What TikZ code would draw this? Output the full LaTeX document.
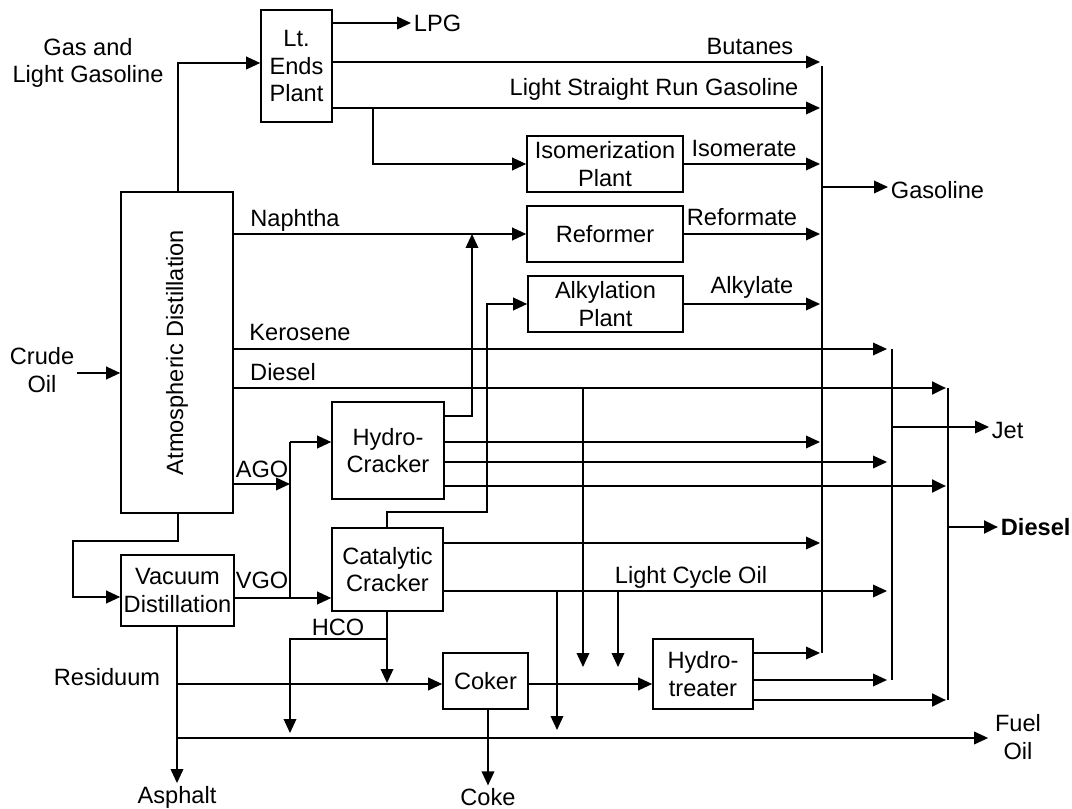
\documentclass[tikz,border=0pt]{standalone}
\usepackage{fontspec}
\setmainfont{Liberation Sans}
\usetikzlibrary{arrows.meta}
\begin{document}
\begin{tikzpicture}[x=0.75pt,y=-0.75pt,
  font=\fontsize{17.7}{20.5}\selectfont,
  box/.style={draw,line width=1.2pt,inner sep=0pt,align=center},
  lbl/.style={inner sep=2pt,align=center},
  ln/.style={line width=1.1pt},
  thk/.style={line width=2.1pt},
  arr/.style={-{Triangle[length=10.5pt,width=9.5pt]}}]
\useasboundingbox (0,0) rectangle (1072,809);

% ---------- boxes ----------
\node[box,minimum width=84pt,minimum height=240.75pt] (atm) at (177,352.5) {\rotatebox{90}{Atmospheric Distillation}};
\node[box,minimum width=53.25pt,minimum height=84pt] (lt) at (296.5,66) {Lt.\\Ends\\Plant};
\node[box,minimum width=117pt,minimum height=42pt] (iso) at (605,164) {Isomerization\\Plant};
\node[box,minimum width=117pt,minimum height=42pt] (ref) at (605,234) {Reformer};
\node[box,minimum width=116.25pt,minimum height=42pt] (alk) at (605.5,304) {Alkylation\\Plant};
\node[box,minimum width=84pt,minimum height=72.75pt] (hc) at (388,450.5) {Hydro-\\Cracker};
\node[box,minimum width=84.75pt,minimum height=53.25pt] (vac) at (177.5,590.5) {Vacuum\\Distillation};
\node[box,minimum width=83.25pt,minimum height=62.25pt] (cc) at (387.5,569.5) {Catalytic\\Cracker};
\node[box,minimum width=63.75pt,minimum height=42pt] (coker) at (485.5,681) {Coker};
\node[box,minimum width=75pt,minimum height=52.5pt] (ht) at (703,674) {Hydro-\\treater};

% ---------- labels ----------
\node[lbl] (crude) at (42,370) {Crude\\Oil};
\node[lbl] (gasl) at (88,63) {Gas and\\Light Gasoline};
\node[lbl,anchor=west] (lpg) at (411,23) {LPG};
\node[lbl] (but) at (750,47) {Butanes};
\node[lbl] (lsrg) at (654,89) {Light Straight Run Gasoline};
\node[lbl] (isol) at (744,148) {Isomerate};
\node[lbl] (refl) at (742,217) {Reformate};
\node[lbl] (alkl) at (752,287) {Alkylate};
\node[lbl] (nap) at (295,220) {Naphtha};
\node[lbl] (ker) at (300,332) {Kerosene};
\node[lbl] (dsl) at (283,372) {Diesel};
\node[lbl] (ago) at (262,469) {AGO};
\node[lbl] (vgo) at (262,580) {VGO};
\node[lbl] (hco) at (338,627) {HCO};
\node[lbl] (lco) at (691,577) {Light Cycle Oil};
\node[lbl] (res) at (107,677) {Residuum};
\node[lbl] (asph) at (177,797) {Asphalt};
\node[lbl] (coke) at (488,797) {Coke};
\node[lbl,anchor=west] (gaso) at (888,190) {Gasoline};
\node[lbl,anchor=west] (jet) at (989,430) {Jet};
\node[lbl,anchor=west,font=\fontsize{17.7}{20.5}\selectfont\bfseries] (dout) at (998,527) {Diesel};
\node[lbl,inner sep=5pt] (fuel) at (1018,737) {Fuel\\Oil};

% ---------- bus columns and junctions ----------
\coordinate (gtop) at (822,66);  \coordinate (gbot) at (822,653); \coordinate (gin) at (820,0);
\coordinate (jtop) at (892,349); \coordinate (jbot) at (892,680); \coordinate (jin) at (887,0);
\coordinate (dtop) at (948,388); \coordinate (dbot) at (948,700); \coordinate (din) at (946,0);
\coordinate (jls) at (373,108);
\coordinate (jn) at (472,234);
\coordinate (jago) at (290,484);
\coordinate (jhct) at (290,442);
\coordinate (jvgo) at (290,598);
\coordinate (jd) at (583,388);  \coordinate (jde) at (583,667);
\coordinate (jl1) at (557,591); \coordinate (jl1e) at (557,730);
\coordinate (jl2) at (618,591); \coordinate (jl2e) at (618,667);
\coordinate (jh) at (387,639);  \coordinate (jhe) at (290,733);
\coordinate (jr) at (387,683);
\coordinate (jres) at (177,684); \coordinate (jfo) at (177,738);
\coordinate (ja) at (387,512);  \coordinate (jb) at (487,512);
\coordinate (jv1) at (178,541); \coordinate (jv2) at (73,541);

% ---------- buses ----------
\draw[ln] (gtop) -- (gbot);
\draw[ln] (jtop) -- (jbot);
\draw[ln] (dtop) -- (dbot);
\draw[ln,arr] (gtop |- 0,187) -- (gaso.west |- 0,187);
\draw[ln,arr] (jtop |- 0,427) -- (jet.west |- 0,427);
\draw[thk,arr] (dtop |- 0,527) -- (dout.west |- 0,527);

% ---------- feeds ----------
\draw[ln,arr] (crude.east |- 0,373) -- (atm.west |- 0,373);
\draw[ln,arr] (atm.north -| 178,0) |- (lt.west |- 0,63);
\draw[ln,arr] (lt.east |- 0,23) -- (lpg.west |- 0,23);
\draw[ln,arr] (lt.east |- 0,62) -- (gin |- 0,62);
\draw[ln,arr] (lt.east |- 0,108) -- (gin |- 0,108);
\draw[ln,arr] (jls) |- (iso.west);
\draw[ln,arr] (iso.east) -- (gin |- iso.east);
\draw[ln,arr] (atm.east |- ref.west) -- (ref.west);
\draw[ln,arr] (ref.east) -- (gin |- ref.east);
\draw[ln,arr] (alk.east) -- (gin |- alk.east);

% ---------- atmospheric side streams ----------
\draw[ln,arr] (atm.east |- jtop) -- (jin |- jtop);
\draw[thk,arr] (atm.east |- dtop) -- (din |- dtop);
\draw[ln,arr] (jd) -- (jde);
\draw[ln,arr] (atm.east |- jago) -- (jago);
\draw[ln] (jhct) -- (jvgo);
\draw[ln,arr] (jhct) -- (hc.west |- jhct);

% ---------- hydrocracker ----------
\draw[ln,arr] (hc.east |- 0,416) -| (jn);
\draw[ln,arr] (hc.east |- 0,442) -- (gin |- 0,442);
\draw[ln,arr] (hc.east |- 0,462) -- (jin |- 0,462);
\draw[thk,arr] (hc.east |- 0,486) -- (din |- 0,486);

% ---------- vacuum ----------
\draw[ln,arr] (atm.south -| jv1) -- (jv1) -- (jv2) |- (vac.west |- 0,597);
\draw[ln,arr] (vac.east |- jvgo) -- (cc.west |- jvgo);
\draw[ln,arr] (vac.south -| jres) -- (asph.north -| jres);
\draw[ln,arr] (jres) -- (coker.west |- jres);
\draw[ln,arr] (jfo) -- (fuel.west |- jfo);

% ---------- catalytic cracker ----------
\draw[ln,arr] (cc.north -| ja) -- (ja) -- (jb) |- (alk.west);
\draw[ln,arr] (cc.east |- 0,543) -- (gin |- 0,543);
\draw[ln,arr] (cc.east |- jl1) -- (jin |- jl1);
\draw[ln,arr] (jl1) -- (jl1e);
\draw[ln,arr] (jl2) -- (jl2e);
\draw[ln,arr] (cc.south -| jr) -- (jr);
\draw[ln,arr] (jh) -| (jhe);

% ---------- coker and hydrotreater ----------
\draw[ln,arr] (coker.south -| coke) -- (coke.north);
\draw[ln,arr] (coker.east |- jres) -- (ht.west |- jres);
\draw[ln,arr] (ht.east |- 0,653) -- (gin |- 0,653);
\draw[ln,arr] (ht.east |- 0,680) -- (jin |- 0,680);
\draw[thk,arr] (ht.east |- 0,700) -- (din |- 0,700);
\end{tikzpicture}
\end{document}
